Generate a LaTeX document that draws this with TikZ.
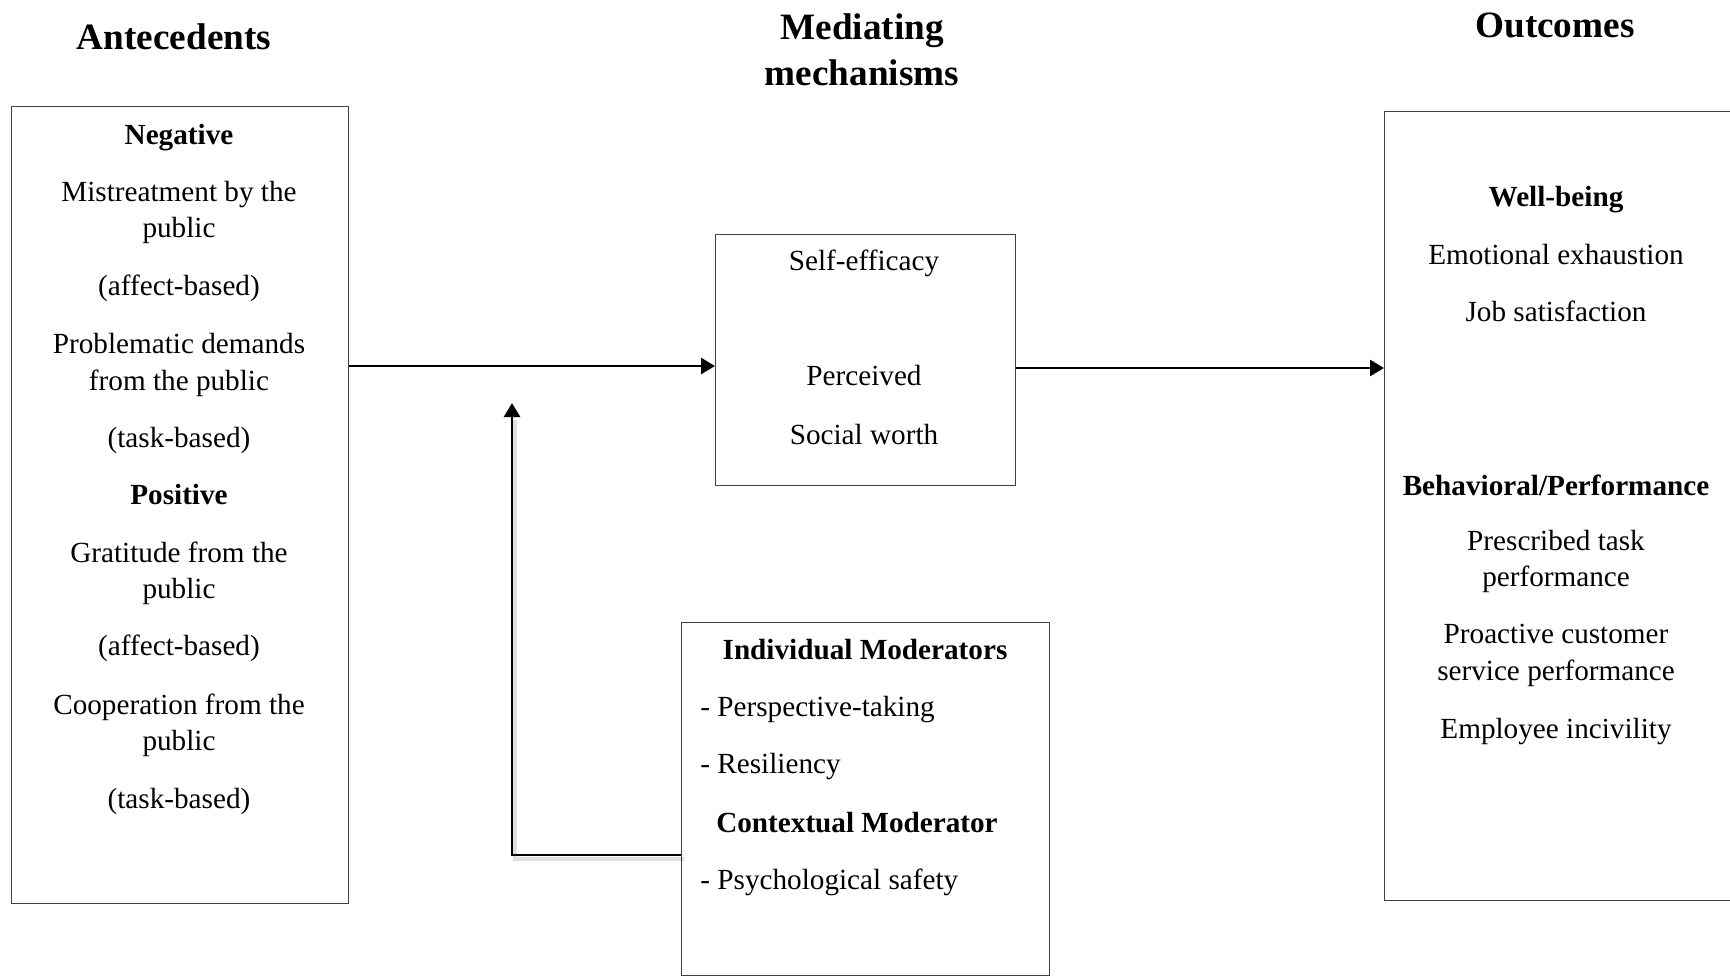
\documentclass[tikz,border=0pt]{standalone}
\usepackage{fontspec}
\setmainfont{Liberation Serif}
\usetikzlibrary{arrows.meta}
\begin{document}
\begin{tikzpicture}[x=0.5pt,y=-0.5pt,
  box/.style={draw=black!75, line width=0.6pt},
  txt/.style={anchor=base, inner sep=0pt, font=\fontsize{14.6}{17.5}\selectfont},
  hd/.style={txt, font=\fontsize{14.6}{17.5}\selectfont\bfseries},
  ttl/.style={anchor=base, inner sep=0pt, font=\fontsize{18.6}{22}\selectfont\bfseries},
  conn/.style={line width=1.3pt, -{Triangle[length=7pt,width=8pt]}},
  shad/.style={line width=2.4pt, black, opacity=0.12}]
\useasboundingbox (0,0) rectangle (1730,976);
% titles
\node[ttl] (t1) at (174,49) {Antecedents};
\node[ttl] (t2a) at (862,39) {Mediating};
\node[ttl] (t2b) at (862,85) {mechanisms};
\node[ttl] (t3) at (1555,37) {Outcomes};
% boxes
\node[box, minimum width=168.5pt, minimum height=398.5pt, inner sep=0pt, anchor=north west] (lb) at (11,106) {};
\node[box, minimum width=150pt, minimum height=125.5pt, inner sep=0pt, anchor=north west] (mb) at (715,234) {};
\node[box, minimum width=200pt, minimum height=394.5pt, inner sep=0pt, anchor=north west] (rb) at (1384,111) {};
\node[box, minimum width=184pt, minimum height=176.5pt, inner sep=0pt, anchor=north west] (bb) at (681,622) {};
% left texts
\node[hd]  (l1)  at (179,144) {Negative};
\node[txt] (l2)  at (179,201) {Mistreatment by the};
\node[txt] (l3)  at (179,237) {public};
\node[txt] (l4)  at (179,295) {(affect-based)};
\node[txt] (l5)  at (179,353) {Problematic demands};
\node[txt] (l6)  at (179,390) {from the public};
\node[txt] (l7)  at (179,447) {(task-based)};
\node[hd]  (l8)  at (179,504) {Positive};
\node[txt] (l9)  at (179,562) {Gratitude from the};
\node[txt] (l10) at (179,598) {public};
\node[txt] (l11) at (179,655) {(affect-based)};
\node[txt] (l12) at (179,714) {Cooperation from the};
\node[txt] (l13) at (179,750) {public};
\node[txt] (l14) at (179,808) {(task-based)};
% middle texts
\node[txt] (m1) at (864,270) {Self-efficacy};
\node[txt] (m2) at (864,385) {Perceived};
\node[txt] (m3) at (864,444) {Social worth};
% right texts
\node[hd]  (r1) at (1556,206) {Well-being};
\node[txt] (r2) at (1556,264) {Emotional exhaustion};
\node[txt] (r3) at (1556,321) {Job satisfaction};
\node[hd]  (r4) at (1556,495) {Behavioral/Performance};
\node[txt] (r5) at (1556,550) {Prescribed task};
\node[txt] (r6) at (1556,586) {performance};
\node[txt] (r7) at (1556,643) {Proactive customer};
\node[txt] (r8) at (1556,680) {service performance};
\node[txt] (r9) at (1556,738) {Employee incivility};
% bottom texts
\node[hd]  (b1) at (865,659) {Individual Moderators};
\node[txt, anchor=base west] (b2) at (700,716) {- Perspective-taking};
\node[txt, anchor=base west] (b3) at (700,773) {- Resiliency};
\node[hd]  (b4) at (857,832) {Contextual Moderator};
\node[txt, anchor=base west] (b5) at (700,889) {- Psychological safety};
% connectors
\coordinate (fb) at (512,855);
\draw[conn] (lb.east |- 0,366) -- (mb.west |- 0,366);
\draw[conn] (mb.east |- 0,368) -- (rb.west |- 0,368);
\draw[shad] ([shift={(3,4)}]bb.west |- fb) -- ([shift={(3,4)}]fb) -- (515,420);
\draw[conn] (bb.west |- fb) -- (fb) -- (512,403);
\end{tikzpicture}
\end{document}
